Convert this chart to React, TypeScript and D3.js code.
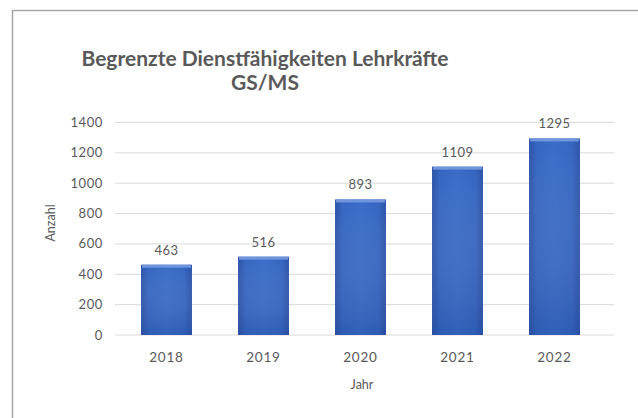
import React from "react";
import * as d3 from "d3";

const years = ["2018", "2019", "2020", "2021", "2022"];
const values = [463, 516, 893, 1109, 1295];
const yTicks = [0, 200, 400, 600, 800, 1000, 1200, 1400];
const titleLines = ["Begrenzte Dienstfähigkeiten Lehrkräfte", "GS/MS"];
const xTitle = "Jahr";
const yTitle = "Anzahl";

export default function App() {
  const W = 638, H = 418;
  const x = d3.scaleBand<string>().domain(years).range([118, 603]).paddingInner(0.475).paddingOuter(0.2375);
  const y = d3.scaleLinear().domain([0, 1400]).range([335, 122.5]);
  const font = "Lato, 'Open Sans', sans-serif";
  const txt = "#595959";
  return (
    <svg width={W} height={H} style={{ position: "absolute", left: 0, top: 0 }}>
      <defs>
        <linearGradient id="barG" x1="0" y1="0" x2="1" y2="0">
          <stop offset="0" stopColor="#2a52a8" />
          <stop offset="0.15" stopColor="#3565c0" />
          <stop offset="0.5" stopColor="#3a6bc6" />
          <stop offset="0.85" stopColor="#3565c0" />
          <stop offset="1" stopColor="#2a52a8" />
        </linearGradient>
        <linearGradient id="barV" x1="0" y1="0" x2="0" y2="1">
          <stop offset="0" stopColor="#ffffff" stopOpacity="0" />
          <stop offset="1" stopColor="#1a3c8c" stopOpacity="0.25" />
        </linearGradient>
      </defs>
      <rect x={0} y={0} width={W} height={H} fill="#ffffff" />
      <rect x={12.5} y={10.5} width={640} height={420} fill="none" stroke="#a6a6a6" strokeWidth={1.5} />
      {titleLines.map((t, i) => (
        <text key={t} x={265} y={66 + i * 24} textAnchor="middle" fontFamily={font} fontWeight="bold" fontSize={21} fill="#595959">{t}</text>
      ))}
      {yTicks.map((v) => (
        <g key={v}>
          <line x1={115} x2={614} y1={y(v)} y2={y(v)} stroke="#d9d9d9" strokeWidth={1} />
          <text x={103} y={y(v) + 4.5} textAnchor="end" fontFamily={font} fontSize={13} letterSpacing={0.6} fill={txt}>{v}</text>
        </g>
      ))}
      {years.map((yr, i) => {
        const bx = x(yr)!;
        const bw = x.bandwidth();
        const top = y(values[i]);
        const h = y(0) - top;
        return (
          <g key={yr}>
            <rect x={bx} y={top} width={bw} height={h} fill="url(#barG)" />
            <rect x={bx} y={top} width={bw} height={h} fill="url(#barV)" />
            <rect x={bx + 1} y={top} width={bw - 2} height={3} fill="#6f95dc" />
            <text x={bx + bw / 2} y={top - 10} textAnchor="middle" fontFamily={font} fontSize={13} letterSpacing={0.5} fill={txt}>{values[i]}</text>
            <text x={bx + bw / 2} y={362} textAnchor="middle" fontFamily={font} fontSize={13.5} letterSpacing={0.8} fill={txt}>{yr}</text>
          </g>
        );
      })}
      <text x={362} y={389} textAnchor="middle" fontFamily={font} fontSize={12.5} fill={txt}>{xTitle}</text>
      <text transform="translate(55,223) rotate(-90)" textAnchor="middle" fontFamily={font} fontSize={12.5} fill={txt}>{yTitle}</text>
    </svg>
  );
}
